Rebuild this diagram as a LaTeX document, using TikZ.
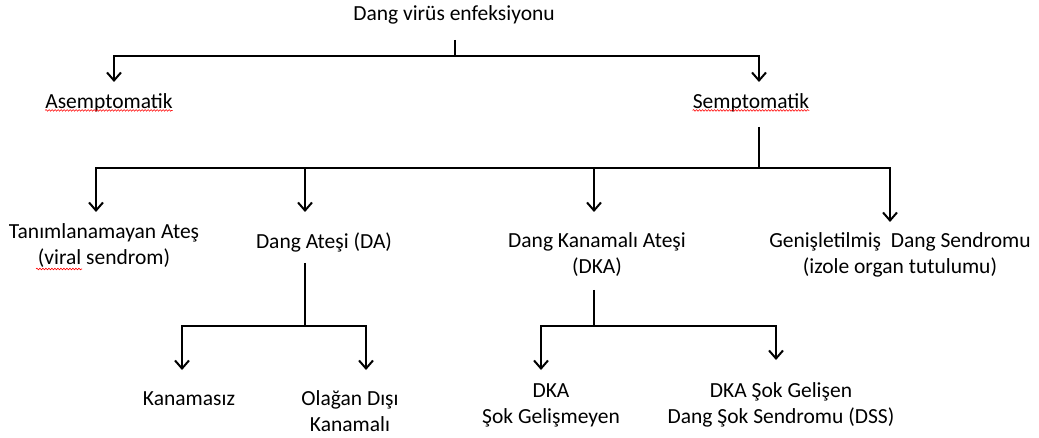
\documentclass[tikz,border=0pt]{standalone}
\usepackage{fontspec}
\setmainfont{Carlito}
\usetikzlibrary{arrows.meta,decorations.pathmorphing}
\begin{document}
\begin{tikzpicture}[x=1pt,y=-1pt,
 lbl/.style={font=\fontsize{21.5}{26}\selectfont, align=center, inner sep=0pt, text=black},
 arr/.style={-{Straight Barb[length=8pt,width=14pt,line width=2pt]}, line width=2pt},
 ln/.style={line width=2pt},
 squig/.style={red, line width=0.6pt, decorate, decoration={snake, amplitude=0.8pt, segment length=3pt}}]
\useasboundingbox[fill=white] (0,0) rectangle (1039,438);
% nodes
\node[lbl] (root) at (454,15) {Dang virüs enfeksiyonu};
\node[lbl] (asem) at (109,103) {Asemptomatik};
\node[lbl] (sem) at (751,103) {Semptomatik};
\node[lbl] (tan) at (104,246) {Tanımlanamayan Ateş\\(viral sendrom)};
\node[lbl] (da) at (324,242) {Dang Ateşi (DA)};
\node[lbl] (dka) at (597,255) {Dang Kanamalı Ateşi\\(DKA)};
\node[lbl] (gen) at (900,255) {Genişletilmiş\ \ Dang Sendromu\\(izole organ tutulumu)};
\node[lbl] (kan) at (189,399) {Kanamasız};
\node[lbl] (ola) at (350,411) {Olağan Dışı\\Kanamalı};
\node[lbl] (dkan) at (551,405) {DKA\\Şok Gelişmeyen};
\node[lbl] (dkas) at (781,405) {DKA Şok Gelişen\\Dang Şok Sendromu (DSS)};
% junction coordinates
\coordinate (r0) at (455,40);
\coordinate (r1) at (455,56);
\coordinate (ta) at (114,82);
\coordinate (ts) at (759,82);
\coordinate (s0) at (759,127);
\coordinate (s1) at (759,168);
\coordinate (ttan) at (96,212);
\coordinate (tda) at (305,212);
\coordinate (tdka) at (594,212);
\coordinate (tgen) at (890,222);
\coordinate (d0) at (305,263);
\coordinate (d1) at (305,326);
\coordinate (tkan) at (182,370);
\coordinate (tola) at (366,370);
\coordinate (k0) at (594,290);
\coordinate (k1) at (594,326);
\coordinate (tdkan) at (541,370);
\coordinate (tdkas) at (776,360);
% connectors
\draw[ln] (r0) -- (r1);
\draw[arr] (r1) -| (ta);
\draw[arr] (r1) -| (ts);
\draw[ln] (s0) -- (s1);
\draw[arr] (s1) -| (ttan);
\draw[arr] (s1) -| (tda);
\draw[arr] (s1) -| (tdka);
\draw[arr] (s1) -| (tgen);
\draw[ln] (d0) -- (d1);
\draw[arr] (d1) -| (tkan);
\draw[arr] (d1) -| (tola);
\draw[ln] (k0) -- (k1);
\draw[arr] (k1) -| (tdkan);
\draw[arr] (k1) -| (tdkas);
% spell-check underlines
\draw[squig] ([yshift=2pt]asem.south west) -- ([yshift=2pt]asem.south east);
\draw[squig] ([yshift=2pt]sem.south west) -- ([yshift=2pt]sem.south east);
\coordinate (v0) at (36,269);
\coordinate (v1) at (82,269);
\draw[squig] (v0) -- (v1);
\end{tikzpicture}
\end{document}
